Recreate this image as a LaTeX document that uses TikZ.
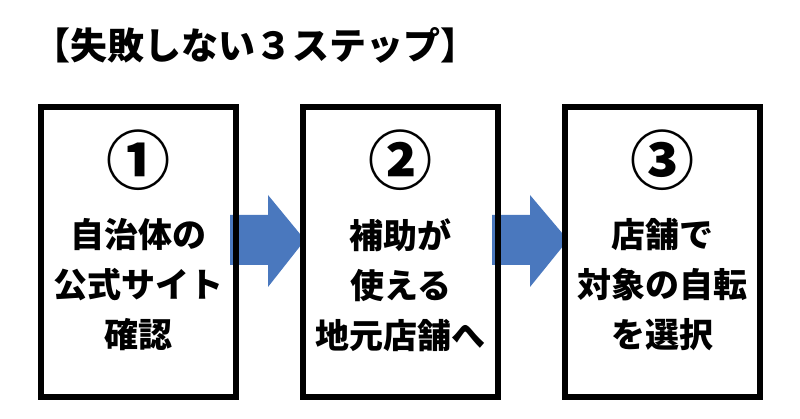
\documentclass[tikz,border=0pt]{standalone}
\usepackage{fontspec}
\newfontfamily\jp{Noto Sans CJK JP}
\begin{document}
\begin{tikzpicture}[x=1pt,y=-1pt,
  box/.style={draw=black,line width=6pt,minimum width=195pt,minimum height=290pt,anchor=north west},
  arr/.style={fill=arrowblue,draw=none},
  num/.style={font=\jp\bfseries\fontsize{64}{64}\selectfont},
  txt/.style={font=\jp\bfseries\fontsize{34}{50}\selectfont,align=center}]
\definecolor{arrowblue}{HTML}{4A78BE}
\useasboundingbox (0,0) rectangle (800,419);
\node[font=\jp\bfseries\fontsize{37}{37}\selectfont,anchor=west] (title) at (30,45) {【失敗しない３ステップ】};
\fill[arr] (230,215) -- (268,215) -- (268,195) -- (305,240) -- (268,287) -- (268,265) -- (230,265) -- cycle;
\fill[arr] (492,215) -- (530,215) -- (530,195) -- (568,240) -- (530,287) -- (530,265) -- (492,265) -- cycle;
\node[box] (b1) at (38,104) {};
\node[box] (b2) at (300,104) {};
\node[box] (b3) at (562,104) {};
\node[num] (n1) at (b1.north |- 0,160) {①};
\node[num] (n2) at (b2.north |- 0,160) {②};
\node[num] (n3) at (b3.north |- 0,160) {③};
\node[txt,anchor=north] (t1) at (b1.north |- 0,215) {自治体の\\公式サイト\\確認};
\node[txt,anchor=north] (t2) at (b2.north |- 0,215) {補助が\\使える\\地元店舗へ};
\node[txt,anchor=north] (t3) at (b3.north |- 0,215) {店舗で\\対象の自転\\を選択};
\end{tikzpicture}
\end{document}
